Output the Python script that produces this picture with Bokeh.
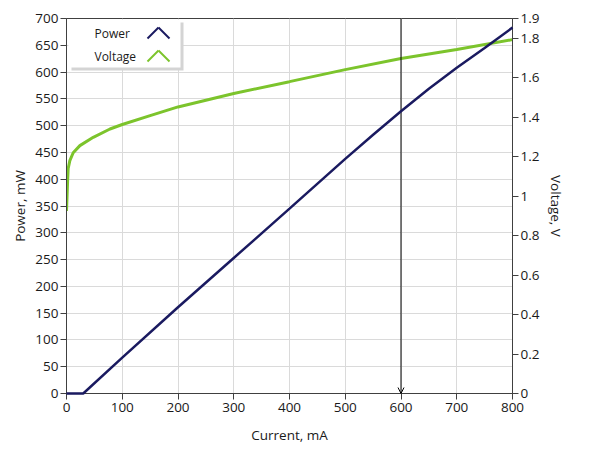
from bokeh.plotting import figure
from bokeh.models import (Range1d, LinearAxis, FixedTicker, CustomJSTickFormatter,
                          Arrow, OpenHead, BoxAnnotation, Label)
from bokeh.embed import file_html
from bokeh.resources import INLINE

# ---- data ----
current_p = [0, 30, 100, 200, 300, 400, 500, 550, 600, 650, 700, 750, 800]
power_mw = [0, 0, 67, 161, 253, 345, 438, 483, 527, 569, 608, 645, 683]

current_v = [0, 1, 2, 3, 6, 12, 24, 48, 78, 100, 150, 200, 300, 400, 500, 600, 700, 800]
voltage_v = [0.925, 1.0, 1.08, 1.14, 1.18, 1.22, 1.256, 1.298, 1.34, 1.363, 1.408,
             1.452, 1.52, 1.58, 1.641, 1.697, 1.743, 1.793]

cursor_ma = 600
x_ticks = [0, 100, 200, 300, 400, 500, 600, 700, 800]
p_ticks = [0, 50, 100, 150, 200, 250, 300, 350, 400, 450, 500, 550, 600, 650, 700]
v_ticks = [0, 0.2, 0.4, 0.6, 0.8, 1.0, 1.2, 1.4, 1.6, 1.8, 1.9]
series_names = ["Power", "Voltage"]

FONT = "Open Sans"
TXT = "#1a1a1a"
AX = "#404040"
NAVY = "#1a1a60"
GREEN = "#7cc42c"

p = figure(width=581, height=448, output_backend="svg", toolbar_location=None,
           x_range=Range1d(0, 800), y_range=Range1d(0, 700),
           min_border_left=66, min_border_top=18, min_border_right=69, min_border_bottom=55)
p.outline_line_color = AX
p.background_fill_color = "white"
p.border_fill_color = "white"

p.extra_y_ranges = {"v": Range1d(0, 1.9)}

def style_axis(ax):
    ax.axis_line_color = AX
    ax.major_tick_line_color = AX
    ax.major_tick_out = 6
    ax.major_tick_in = 0
    ax.minor_tick_line_color = None
    ax.major_label_text_font = FONT
    ax.major_label_text_font_size = "13.5px"
    ax.major_label_text_color = TXT
    ax.axis_label_text_font = FONT
    ax.axis_label_text_font_size = "13.5px"
    ax.axis_label_text_font_style = "normal"
    ax.axis_label_text_color = TXT

p.xaxis.ticker = FixedTicker(ticks=x_ticks)
p.xaxis.axis_label = "Current, mA"
p.xaxis.major_label_standoff = 3
p.xaxis.axis_label_standoff = 11
p.yaxis.ticker = FixedTicker(ticks=p_ticks)
p.yaxis.axis_label = "Power, mW"
p.yaxis.major_label_standoff = 2
p.yaxis.axis_label_standoff = 3
style_axis(p.xaxis[0])
style_axis(p.yaxis[0])

vaxis = LinearAxis(y_range_name="v", axis_label="Voltage, V",
                   ticker=FixedTicker(ticks=v_ticks),
                   formatter=CustomJSTickFormatter(code="return String(Math.round(tick*10)/10);"))
style_axis(vaxis)
vaxis.major_label_standoff = 2
vaxis.axis_label_standoff = 5
p.add_layout(vaxis, "right")

p.xgrid.grid_line_color = "#dadada"
p.ygrid.grid_line_color = "#dadada"
p.xgrid.ticker = FixedTicker(ticks=x_ticks)
p.ygrid.ticker = FixedTicker(ticks=p_ticks)

p.line(current_v, voltage_v, y_range_name="v", line_color=GREEN, line_width=3)
p.line(current_p, power_mw, line_color=NAVY, line_width=2.5, level="overlay")

# cursor
p.add_layout(Arrow(x_start=cursor_ma, y_start=700, x_end=cursor_ma, y_end=0,
                   line_color="black", line_width=1,
                   end=OpenHead(size=6, line_color="black", line_width=1)))

# legend (label then chevron icon, like the reference)
p.add_layout(BoxAnnotation(left=5, right=117, top=371, bottom=323,
                           left_units="screen", right_units="screen",
                           top_units="screen", bottom_units="screen",
                           fill_color="#d4d4d4", fill_alpha=1, line_color=None))
p.add_layout(BoxAnnotation(left=2, right=114, top=374, bottom=326,
                           left_units="screen", right_units="screen",
                           top_units="screen", bottom_units="screen",
                           fill_color="white", fill_alpha=1, line_color=None))
for name, col, yc in [(series_names[0], NAVY, 360), (series_names[1], GREEN, 337)]:
    p.add_layout(Label(x=28, y=yc, x_units="screen", y_units="screen", text=name,
                       text_font=FONT, text_font_size="12px", text_color=TXT,
                       text_baseline="middle"))
    for (xa, ya, xb, yb) in [(81, yc - 5, 92, yc + 6), (92, yc + 6, 103, yc - 5)]:
        p.add_layout(Arrow(x_start=xa, y_start=ya, x_end=xb, y_end=yb,
                           start_units="screen", end_units="screen", end=None,
                           line_color=col, line_width=2))

open("out.html", "w").write(file_html(p, INLINE))
